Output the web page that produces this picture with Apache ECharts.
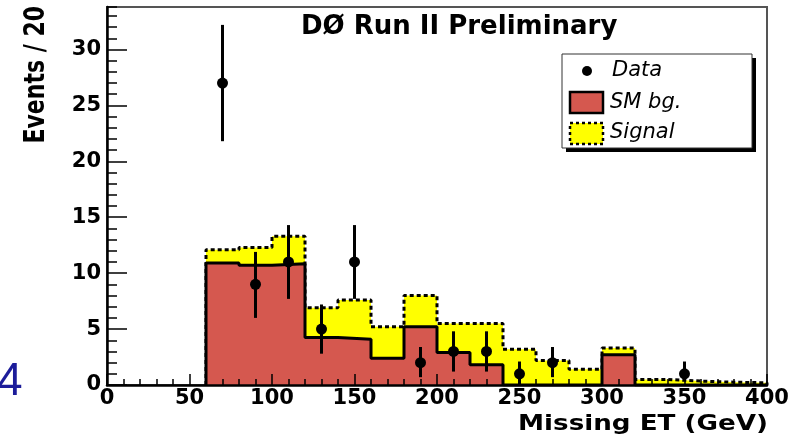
<!DOCTYPE html>
<html>
<head>
<meta charset="utf-8">
<script src="https://cdn.jsdelivr.net/npm/echarts@6/dist/echarts.min.js"></script>
<style>
html,body{margin:0;padding:0;background:#fff;}
#chart{width:811px;height:437px;}
</style>
</head>
<body>
<div id="chart"></div>
<script>
// ---- data ----
const binEdges = [60, 80, 100, 120, 140, 160, 180, 200, 220, 240, 260, 280, 300, 320, 340, 360, 380, 400];
const smBg     = [10.9, 10.7, 10.85, 4.25, 4.1, 2.4, 5.2, 2.9, 1.8, 0, 0, 0, 2.7, 0, 0, 0, 0];
const sigTotal = [12.1, 12.3, 13.3, 6.9, 7.6, 5.2, 8.0, 5.5, 5.5, 3.2, 2.2, 1.4, 3.3, 0.5, 0.35, 0.25, 0.2];
const dataX    = [70, 90, 110, 130, 150, 190, 210, 230, 250, 270, 350];
const dataY    = [27, 9, 11, 5, 11, 2, 3, 3, 1, 2, 1];
const dataLo   = [21.8, 6.0, 7.7, 2.8, 7.7, 0.7, 1.2, 1.2, 0, 0.7, 0.45];
const dataHi   = [32.2, 11.9, 14.3, 7.2, 14.3, 3.4, 4.8, 4.8, 2.1, 3.4, 2.1];
const titleText = 'DØ Run II Preliminary';
const xTitle = 'Missing ET (GeV)';
const yTitle = 'Events / 20';
const legendNames = ['Data', 'SM bg.', 'Signal'];

function stepData(vals) {
  const d = [[binEdges[0], 0]];
  for (let i = 0; i < vals.length; i++) d.push([binEdges[i], vals[i]]);
  d.push([binEdges[vals.length], 0]);
  return d;
}
const points = dataX.map((x, i) => [x, dataY[i], dataLo[i], dataHi[i]]);

const RED = '#d5584f';
const YEL = '#ffff00';
const FONT = 'DejaVu Sans';

const chart = echarts.init(document.getElementById('chart'), null, {renderer: 'canvas'});
chart.setOption({
  animation: false,
  backgroundColor: '#fff',
  title: {
    text: titleText, left: 296, top: 9, padding: 5,
    textStyle: {fontFamily: FONT, fontWeight: 'bold', fontSize: 26, color: '#000'}
  },
  grid: {left: 107, right: 44, top: 7, bottom: 52, show: true, borderColor: '#555', borderWidth: 2, backgroundColor: 'transparent'},
  xAxis: {
    type: 'value', min: 0, max: 400, interval: 50, z: 5,
    axisLine: {show: true, onZero: false, lineStyle: {color: '#000', width: 2.5}},
    axisTick: {inside: true, length: 11, lineStyle: {color: '#000', width: 1.5}},
    minorTick: {show: true, splitNumber: 5, length: 6, lineStyle: {color: '#000', width: 1.5}},
    splitLine: {show: false},
    axisLabel: {margin: 3, fontFamily: FONT, fontWeight: 'bold', fontSize: 21, color: '#000'}
  },
  yAxis: [{
    type: 'value', min: 0, max: 33.8, interval: 5, z: 5,
    axisLine: {show: true, lineStyle: {color: '#000', width: 2.5}},
    axisTick: {inside: true, length: 20, lineStyle: {color: '#000', width: 1.5}},
    splitLine: {show: false},
    axisLabel: {margin: 6, showMaxLabel: false, fontFamily: FONT, fontWeight: 'bold', fontSize: 21, color: '#000'}
  }, {
    type: 'value', min: 0, max: 33.8, interval: 1, position: 'left', z: 5,
    axisLine: {show: false},
    axisTick: {inside: true, length: 10, lineStyle: {color: '#000', width: 1.5}},
    splitLine: {show: false},
    axisLabel: {show: false}
  }],
  series: [{
    name: 'Signal', type: 'line', step: 'end', z: 2,
    data: stepData(sigTotal), showSymbol: false, symbol: 'none',
    lineStyle: {color: '#000', width: 3, type: [4, 3]},
    areaStyle: {color: YEL, opacity: 1}
  }, {
    name: 'SM bg.', type: 'line', step: 'end', z: 3,
    data: stepData(smBg), showSymbol: false, symbol: 'none',
    lineStyle: {color: '#000', width: 3},
    areaStyle: {color: RED, opacity: 1}
  }, {
    name: 'Data', type: 'custom', z: 6,
    data: points,
    renderItem: function (params, api) {
      const c = api.coord([api.value(0), api.value(1)]);
      const lo = api.coord([api.value(0), api.value(2)]);
      const hi = api.coord([api.value(0), api.value(3)]);
      return {
        type: 'group',
        children: [
          {type: 'line', shape: {x1: lo[0], y1: lo[1], x2: hi[0], y2: hi[1]}, style: {stroke: '#000', lineWidth: 3}},
          {type: 'circle', shape: {cx: c[0], cy: c[1], r: 5.5}, style: {fill: '#000'}}
        ]
      };
    }
  }],
  graphic: [
    {type: 'text', x: -3, y: 382, style: {text: '4', fontFamily: 'Liberation Sans', fontSize: 46, fill: '#1c1c9a', textVerticalAlign: 'middle'}},
    {type: 'text', x: 37, y: 6, rotation: Math.PI / 2, scaleY: 1.3,
      style: {text: yTitle, fontFamily: FONT, fontWeight: 'bold', fontSize: 22, fill: '#000', textAlign: 'right', textVerticalAlign: 'middle'}},
    {type: 'text', x: 768, y: 424, scaleX: 1.19,
      style: {text: xTitle, fontFamily: FONT, fontWeight: 'bold', fontSize: 22, fill: '#000', textAlign: 'right', textVerticalAlign: 'middle'}},
    // legend
    {type: 'rect', shape: {x: 566, y: 58, width: 190, height: 94}, style: {fill: '#000'}, z: 10},
    {type: 'rect', shape: {x: 562, y: 54, width: 190, height: 94}, style: {fill: '#fff', stroke: '#333', lineWidth: 1}, z: 11},
    {type: 'circle', shape: {cx: 587, cy: 71, r: 5}, style: {fill: '#000'}, z: 12},
    {type: 'text', x: 612, y: 71, z: 12, style: {text: legendNames[0], fontFamily: FONT, fontStyle: 'italic', fontSize: 21, fill: '#000', textVerticalAlign: 'middle'}},
    {type: 'rect', shape: {x: 570, y: 92, width: 33, height: 21}, style: {fill: RED, stroke: '#000', lineWidth: 2.5}, z: 12},
    {type: 'text', x: 610, y: 103, z: 12, style: {text: legendNames[1], fontFamily: FONT, fontStyle: 'italic', fontSize: 21, fill: '#000', textVerticalAlign: 'middle'}},
    {type: 'rect', shape: {x: 570, y: 123, width: 33, height: 21}, style: {fill: YEL, stroke: '#000', lineWidth: 2.5, lineDash: [3, 3]}, z: 12},
    {type: 'text', x: 610, y: 133, z: 12, style: {text: legendNames[2], fontFamily: FONT, fontStyle: 'italic', fontSize: 21, fill: '#000', textVerticalAlign: 'middle'}}
  ]
});
</script>
</body>
</html>
